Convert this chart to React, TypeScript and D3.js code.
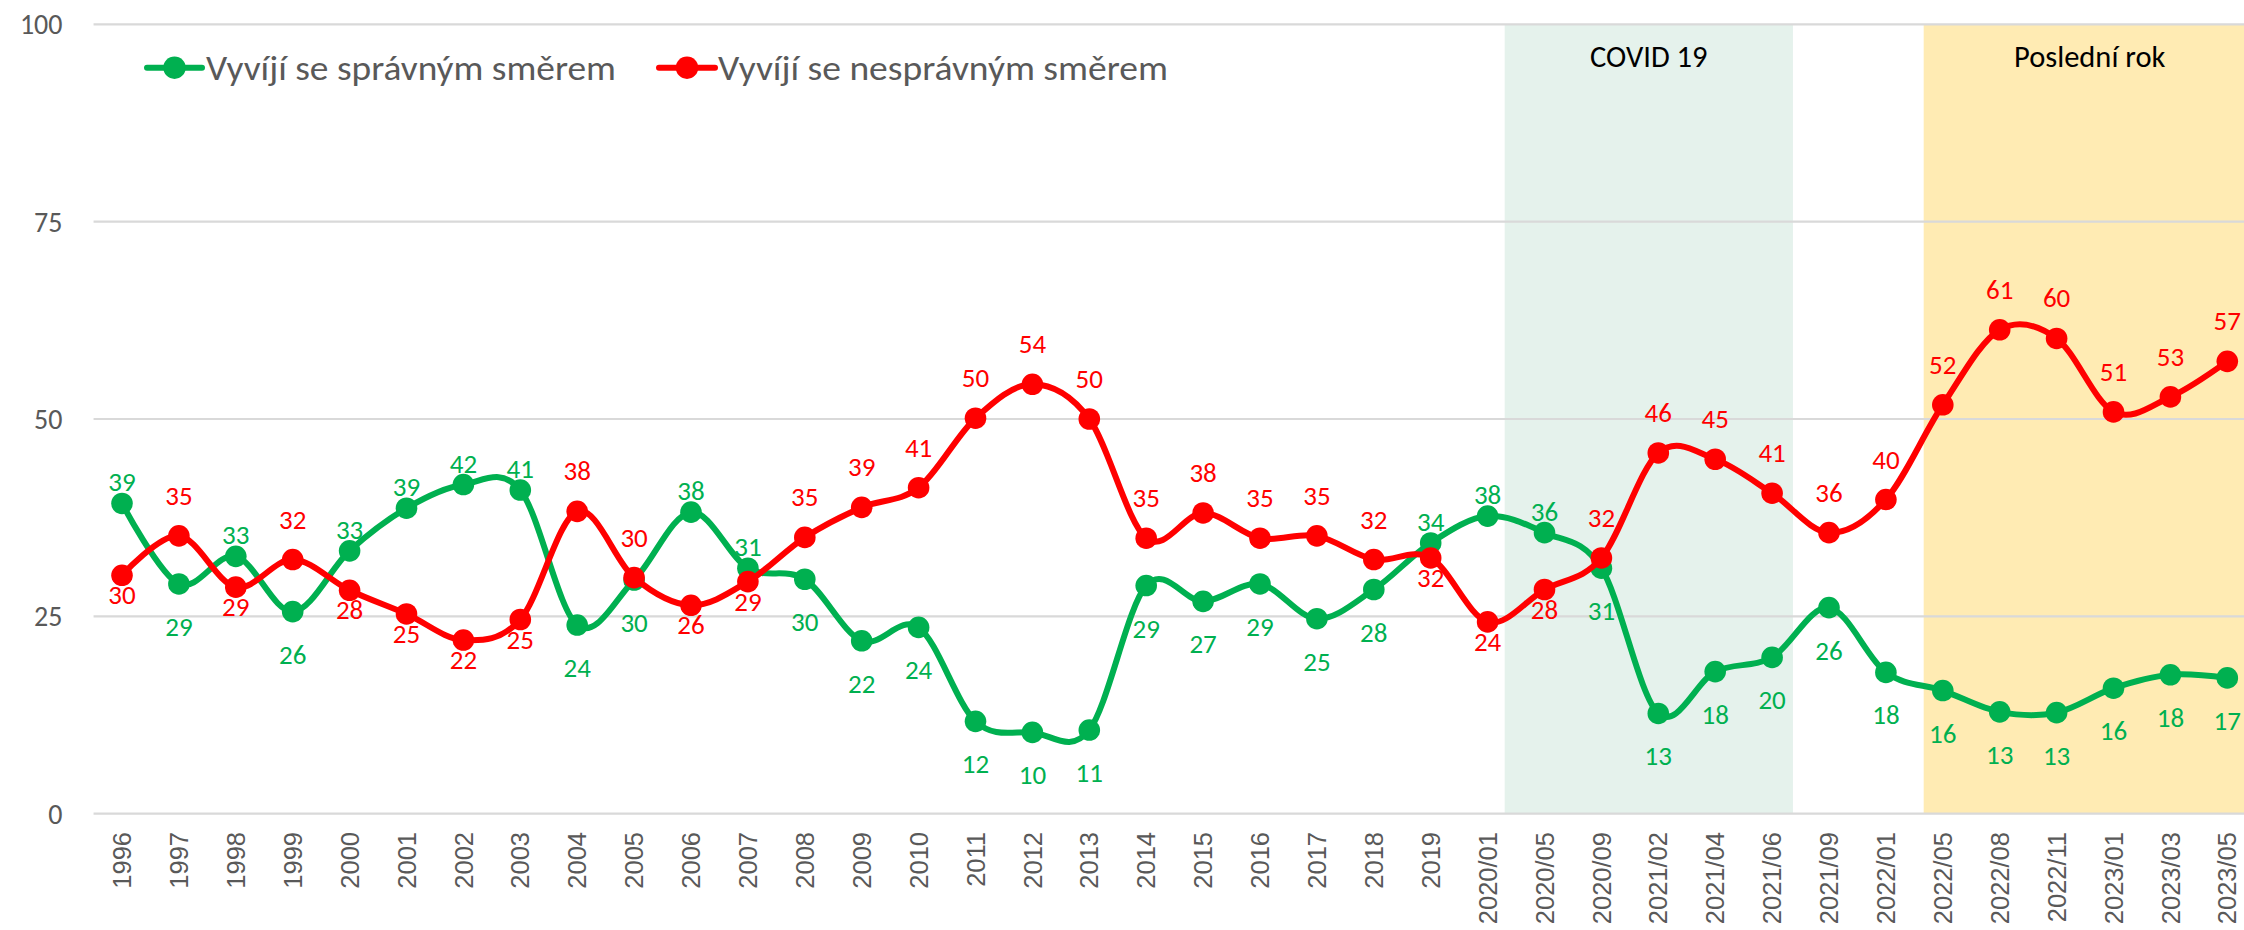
import React from "react";
import * as d3 from "d3";

// ---------- data ----------
const categories: string[] = [
  "1996", "1997", "1998", "1999", "2000", "2001", "2002", "2003", "2004", "2005",
  "2006", "2007", "2008", "2009", "2010", "2011", "2012", "2013", "2014", "2015",
  "2016", "2017", "2018", "2019", "2020/01", "2020/05", "2020/09", "2021/02",
  "2021/04", "2021/06", "2021/09", "2022/01", "2022/05", "2022/08", "2022/11",
  "2023/01", "2023/03", "2023/05",
];

// "Vyvíjí se správným směrem"
const rightDirection: number[] = [
  39.3, 29.1, 32.6, 25.6, 33.3, 38.7, 41.7, 41.0, 23.9, 29.6,
  38.2, 31.1, 29.7, 21.9, 23.6, 11.7, 10.3, 10.6, 28.9, 26.9,
  29.1, 24.7, 28.4, 34.3, 37.7, 35.6, 31.1, 12.7, 18.0, 19.8,
  26.1, 17.9, 15.6, 12.9, 12.8, 15.9, 17.6, 17.2,
];

// "Vyvíjí se nesprávným směrem"
const wrongDirection: number[] = [
  30.2, 35.2, 28.7, 32.2, 28.3, 25.3, 22.0, 24.6, 38.3, 29.9,
  26.4, 29.4, 35.0, 38.8, 41.3, 50.1, 54.4, 50.0, 34.9, 38.1,
  34.9, 35.2, 32.2, 32.4, 24.3, 28.4, 32.4, 45.7, 44.9, 40.6,
  35.6, 39.8, 51.8, 61.3, 60.2, 50.9, 52.8, 57.3,
];

// label placement: a = above the point, b = below
const rightLabelPos: string[] = [
  "a", "b", "a", "b", "a", "a", "a", "a", "b", "b",
  "a", "a", "b", "b", "b", "b", "b", "b", "b", "b",
  "b", "b", "b", "a", "a", "a", "b", "b", "b", "b",
  "b", "b", "b", "b", "b", "b", "b", "b",
];
const wrongLabelPos: string[] = [
  "b", "a", "b", "a", "b", "b", "b", "b", "a", "a",
  "b", "b", "a", "a", "a", "a", "a", "a", "a", "a",
  "a", "a", "a", "b", "b", "b", "a", "a", "a", "a",
  "a", "a", "a", "a", "a", "a", "a", "a",
];

const yTicks: number[] = [0, 25, 50, 75, 100];

const seriesNames: string[] = ["Vyvíjí se správným směrem", "Vyvíjí se nesprávným směrem"];

const bandNames: string[] = ["COVID 19", "Poslední rok"];

// ---------- styles ----------
const GREEN = "#00B050";
const RED = "#FF0000";
const GRID = "#D9D9D9";
const AXIS_TEXT = "#595959";
const CAL = "Carlito, Calibri, Lato, sans-serif";
const ARIAL = "'Liberation Sans', Arial, sans-serif";

export default function App() {
  const W = 2244;
  const H = 930;

  const x = d3.scalePoint<string>().domain(categories).range([122, 2227.3]);
  const step = x.step();
  const plotLeft = (x(categories[0]) as number) - step / 2;
  const plotRight = (x(categories[categories.length - 1]) as number) + step / 2;
  const y = d3.scaleLinear().domain([0, 100]).range([813.7, 24.3]);

  const line = d3
    .line<number>()
    .x((_, i) => x(categories[i]) as number)
    .y((d) => y(d))
    .curve(d3.curveCardinal.tension(0));

  const covidX0 = (x("2020/01") as number) + step * 0.3;
  const covidX1 = (x("2021/06") as number) + step * 0.366;
  const lastX0 = (x("2022/01") as number) + step * 0.664;
  const lastX1 = plotRight;

  const series = [
    { name: seriesNames[0], values: rightDirection, color: GREEN, pos: rightLabelPos, above: -12, below: 52 },
    { name: seriesNames[1], values: wrongDirection, color: RED, pos: wrongLabelPos, above: -31, below: 29 },
  ];

  const legendItems = [
    { name: seriesNames[0], color: GREEN, x0: 147, x1: 202, tx: 206, tw: 410 },
    { name: seriesNames[1], color: RED, x0: 659, x1: 715, tx: 718, tw: 450 },
  ];

  return (
    <svg
      width={W}
      height={H}
      style={{ position: "absolute", left: 0, top: 0, background: "#fff" }}
    >
      <rect x={0} y={0} width={W} height={H} fill="#ffffff" />
      {/* highlighted periods */}
      <rect x={covidX0} y={y(100)} width={covidX1 - covidX0} height={y(0) - y(100)} fill="#E5F2EC" />
      <rect x={lastX0} y={y(100)} width={lastX1 - lastX0} height={y(0) - y(100)} fill="#FFEBB3" />
      <text x={(covidX0 + covidX1) / 2} y={66.5} textAnchor="middle" fontFamily={CAL} fontSize={30.5} fill="#000">
        {bandNames[0]}
      </text>
      <text x={(lastX0 + lastX1) / 2} y={66.5} textAnchor="middle" fontFamily={CAL} fontSize={30.5} fill="#000">
        {bandNames[1]}
      </text>

      {/* gridlines + y labels */}
      {yTicks.map((t) => (
        <g key={t}>
          <line x1={plotLeft} x2={plotRight} y1={y(t)} y2={y(t)} stroke={GRID} strokeWidth={2.2} />
          <text
            x={62.5}
            y={y(t)}
            dy="0.36em"
            textAnchor="end"
            fontFamily={CAL}
            fontSize={28}
            fill={AXIS_TEXT}
          >
            {t}
          </text>
        </g>
      ))}

      {/* x labels */}
      {categories.map((c) => (
        <text
          key={c}
          transform={`translate(${(x(c) as number)},832) rotate(-90)`}
          dy="0.36em"
          textAnchor="end"
          fontFamily={ARIAL}
          fontSize={25.5}
          fill={AXIS_TEXT}
        >
          {c}
        </text>
      ))}

      {/* series */}
      {series.map((s) => (
        <g key={s.name}>
          <path d={line(s.values) || ""} fill="none" stroke={s.color} strokeWidth={6} strokeLinejoin="round" />
          {s.values.map((v, i) => (
            <circle key={i} cx={x(categories[i]) as number} cy={y(v)} r={10.8} fill={s.color} />
          ))}
        </g>
      ))}

      {/* data labels */}
      {series.map((s) => (
        <g key={s.name + "-labels"}>
          {s.values.map((v, i) => (
            <text
              key={i}
              x={x(categories[i]) as number}
              y={y(v) + (s.pos[i] === "a" ? s.above : s.below)}
              textAnchor="middle"
              fontFamily={CAL}
              fontSize={27}
              fill={s.color}
            >
              {Math.round(v)}
            </text>
          ))}
        </g>
      ))}

      {/* legend */}
      {legendItems.map((l) => (
        <g key={l.name}>
          <line x1={l.x0} x2={l.x1} y1={67.7} y2={67.7} stroke={l.color} strokeWidth={6} strokeLinecap="round" />
          <circle cx={(l.x0 + l.x1) / 2} cy={67.7} r={11.2} fill={l.color} />
          <text
            x={l.tx}
            y={80}
            fontFamily={CAL}
            fontSize={35}
            fill={AXIS_TEXT}
            textLength={l.tw}
            lengthAdjust="spacingAndGlyphs"
          >
            {l.name}
          </text>
        </g>
      ))}
    </svg>
  );
}
